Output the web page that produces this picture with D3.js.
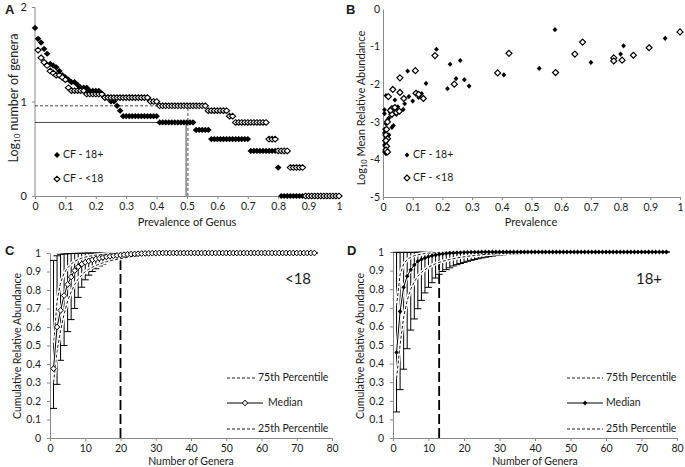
<!DOCTYPE html>
<html><head><meta charset="utf-8">
<script src="https://cdn.jsdelivr.net/npm/d3@7"></script>
<style>
body{margin:0;background:#fff}
svg{display:block}
text{font-family:Lato,"Open Sans",sans-serif;fill:#1a1a1a}
</style>
</head><body>
<svg id="chart" width="685" height="467"></svg>
<script>
// ---------------- Panel A data ----------------
const prevalenceSteps = [0,0.01,0.02,0.03,0.04,0.05,0.06,0.07,0.08,0.09,0.1,0.11,0.12,0.13,0.14,0.15,0.16,0.17,0.18,0.19,0.2,0.21,0.22,0.23,0.24,0.25,0.26,0.27,0.28,0.29,0.3,0.31,0.32,0.33,0.34,0.35,0.36,0.37,0.38,0.39,0.4,0.41,0.42,0.43,0.44,0.45,0.46,0.47,0.48,0.49,0.5,0.51,0.52,0.53,0.54,0.55,0.56,0.57,0.58,0.59,0.6,0.61,0.62,0.63,0.64,0.65,0.66,0.67,0.68,0.69,0.7,0.71,0.72,0.73,0.74,0.75,0.76,0.77,0.78,0.79,0.8,0.81,0.82,0.83,0.84,0.85,0.86,0.87,0.88,0.89,0.9,0.91,0.92,0.93,0.94,0.95,0.96,0.97,0.98,0.99,1];
const generaAdult = [60,46,42,36,32,25,24,23,21,19, 18,17,16,16,15,14,14,14,13,13, 13,13,12,11,11,10,10,9,8,7, 7,7,7,7,7,7,7,7,7,7, 7,6,6,6,6,6,6,6,6,6, 6,6,6,5,5,5,5,5,4,4, 4,4,4,4,4,4,4,4,4,4, 4,3,3,3,3,3,3,3,3,3, 2,1,1,1,1,1,1,1,1,1, 1,1,1,1,1,1,1,1,1,1,1];
const generaChild = [null,35,29,26,24,21,20,19,19,18, 17,14,13,13,13,13,13,12,12,12, 12,12,12,11,11,11,11,11,11,11, 11,11,11,11,11,11,11,11,10,10, 10,9,9,9,9,9,9,9,9,9, 9,9,9,9,9,9,9,8,8,8, 8,8,8,8,7,7,6,6,6,6, 6,6,6,6,6,6,6,4,4,4, 3,3,3,3,2,2,2,2,2,1, 1,1,1,1,1,1,1,1,1,1,1];
const refSolid = {prev:0.497, genera:6};
const refDashed = {prev:0.503, genera:9};
const ticksA_x = [0,0.1,0.2,0.3,0.4,0.5,0.6,0.7,0.8,0.9,1];
const ticksA_y = [0,1,2];

// ---------------- Panel B data ----------------
const scatterAdult = [[0.579,-0.55],[0.95,-0.78],[0.81,-0.98],[0.80,-1.20],[0.70,-1.42],[0.526,-1.58],[0.18,-1.07],[0.226,-1.47],[0.26,-1.37],[0.083,-1.65],[0.407,-1.75],[0.145,-1.98],[0.246,-1.85],[0.274,-1.88],[0.217,-2.12],[0.29,-2.05],[0.087,-2.33],[0.10,-2.45],[0.12,-2.35],[0.13,-2.25],[0.125,-2.3],[0.073,-2.52],[0.068,-2.67],[0.04,-2.42],[0.05,-2.6],[0.045,-2.8],[0.035,-3.1],[0.03,-3.15],[0.025,-2.75],[0.02,-2.9],[0.015,-2.95],[0.01,-2.3],[0.005,-2.68],[0.005,-2.78],[0.01,-3.05],[0.005,-3.2],[0.005,-3.3],[0.01,-3.4],[0.005,-3.5],[0.01,-3.55],[0.005,-3.62],[0.005,-3.8],[0.01,-3.85],[0.015,-3.45],[0.02,-3.35]];
const scatterChild = [[1.0,-0.61],[0.672,-0.88],[0.896,-1.03],[0.646,-1.2],[0.843,-1.23],[0.777,-1.30],[0.777,-1.38],[0.805,-1.36],[0.424,-1.18],[0.175,-1.24],[0.386,-1.70],[0.581,-1.69],[0.109,-1.64],[0.057,-1.83],[0.24,-2.0],[0.033,-2.14],[0.057,-2.22],[0.111,-2.24],[0.12,-2.27],[0.136,-2.38],[0.07,-2.38],[0.018,-2.33],[0.03,-2.65],[0.04,-2.62],[0.045,-2.75],[0.03,-2.8],[0.055,-2.72],[0.025,-2.7],[0.015,-3.0],[0.012,-3.2],[0.01,-3.35],[0.015,-3.45],[0.01,-3.5],[0.012,-3.65],[0.01,-3.75],[0.015,-3.8]];
const ticksB_x = [0,0.1,0.2,0.3,0.4,0.5,0.6,0.7,0.8,0.9,1];
const ticksB_y = [0,-1,-2,-3,-4,-5];

// ---------------- Panel C data (<18) ----------------
const generaC = [1,2,3,4,5,6,7,8,9,10,11,12,13,14,15,16,17,18,19,20,21,22,23,24,25,26,27,28,29,30,31,32,33,34,35,36,37,38,39,40,41,42,43,44,45,46,47,48,49,50,51,52,53,54,55,56,57,58,59,60,61,62,63,64,65,66,67,68,69,70,71,72,73,74,75];
const medianC = [0.375,0.60,0.69,0.77,0.83,0.87,0.905,0.925,0.94,0.95, 0.957,0.963,0.968,0.972,0.976,0.979,0.982,0.985,0.987,0.989, 0.991,0.993,0.994,0.995,0.996,0.997,0.998,0.998,0.999,0.999, 1,1,1,1,1,1,1,1,1,1, 1,1,1,1,1,1,1,1,1,1, 1,1,1,1,1,1,1,1,1,1, 1,1,1,1,1,1,1,1,1,1, 1,1,1,1,1];
const lowC = [0.16,0.29,0.42,0.50,0.575,0.64,0.70,0.76,0.815,0.855, 0.88,0.90,0.915,0.93,0.94,0.95,0.955,0.96,0.965,0.97, 0.975,0.978,0.981,0.984,0.987,0.989,0.991,0.993,0.995,0.996, 0.997,0.998,0.998,0.999,0.999,0.999,1,1,1,1, 1,1,1,1,1,1,1,1,1,1, 1,1,1,1,1,1,1,1,1,1, 1,1,1,1,1,1,1,1,1,1, 1,1,1,1,1];
const highC = [0.96,0.985,0.993,0.995,0.996,0.997,0.998,0.998,0.999,0.999, 1,1,1,1,1,1,1,1,1,1, 1,1,1,1,1,1,1,1,1,1, 1,1,1,1,1,1,1,1,1,1, 1,1,1,1,1,1,1,1,1,1, 1,1,1,1,1,1,1,1,1,1, 1,1,1,1,1,1,1,1,1,1, 1,1,1,1,1];
const p75C = [0.50,0.74,0.84,0.89,0.92,0.94,0.955,0.965,0.972,0.978, 0.982,0.985,0.988,0.99,0.992,0.994,0.995,0.996,0.997,0.998, 0.998,0.999,0.999,1,1,1,1,1,1,1, 1,1,1,1,1,1,1,1,1,1, 1,1,1,1,1,1,1,1,1,1, 1,1,1,1,1,1,1,1,1,1, 1,1,1,1,1,1,1,1,1,1, 1,1,1,1,1];
const p25C = [0.30,0.47,0.58,0.67,0.74,0.79,0.83,0.86,0.88,0.90, 0.912,0.923,0.932,0.94,0.947,0.953,0.958,0.962,0.966,0.97, 0.974,0.977,0.98,0.983,0.985,0.987,0.989,0.991,0.993,0.994, 0.995,0.996,0.997,0.998,0.998,0.999,0.999,1,1,1, 1,1,1,1,1,1,1,1,1,1, 1,1,1,1,1,1,1,1,1,1, 1,1,1,1,1,1,1,1,1,1, 1,1,1,1,1];
const cutoffC = 20;

// ---------------- Panel D data (18+) ----------------
const generaD = [1,2,3,4,5,6,7,8,9,10,11,12,13,14,15,16,17,18,19,20,21,22,23,24,25,26,27,28,29,30,31,32,33,34,35,36,37,38,39,40,41,42,43,44,45,46,47,48,49,50,51,52,53,54,55,56,57,58,59,60,61,62,63,64,65,66,67,68,69,70,71,72,73,74,75,76,77];
const medianD = [0.46,0.68,0.81,0.87,0.905,0.93,0.95,0.96,0.968,0.975, 0.98,0.984,0.988,0.99,0.992,0.994,0.995,0.996,0.997,0.998, 0.998,0.999,0.999,0.999,1,1,1,1,1,1, 1,1,1,1,1,1,1,1,1,1, 1,1,1,1,1,1,1,1,1,1, 1,1,1,1,1,1,1,1,1,1, 1,1,1,1,1,1,1,1,1,1, 1,1,1,1,1,1,1];
const lowD = [0.14,0.26,0.37,0.48,0.58,0.64,0.695,0.74,0.78,0.81, 0.835,0.86,0.88,0.895,0.905,0.915,0.925,0.932,0.938,0.944, 0.95,0.955,0.96,0.964,0.968,0.972,0.975,0.978,0.981,0.983, 0.985,0.987,0.989,0.99,0.991,0.992,0.993,0.994,0.995,0.996, 0.997,0.997,0.998,0.998,0.999,0.999,0.999,1,1,1, 1,1,1,1,1,1,1,1,1,1, 1,1,1,1,1,1,1,1,1,1, 1,1,1,1,1,1,1];
const highD = [0.998,0.998,0.998,0.998,0.998,0.998,0.999,0.999,0.999,0.999, 1,1,1,1,1,1,1,1,1,1, 1,1,1,1,1,1,1,1,1,1, 1,1,1,1,1,1,1,1,1,1, 1,1,1,1,1,1,1,1,1,1, 1,1,1,1,1,1,1,1,1,1, 1,1,1,1,1,1,1,1,1,1, 1,1,1,1,1,1,1];
const p75D = [0.71,0.88,0.935,0.96,0.972,0.98,0.985,0.989,0.992,0.994, 0.995,0.996,0.997,0.998,0.998,0.999,0.999,1,1,1, 1,1,1,1,1,1,1,1,1,1, 1,1,1,1,1,1,1,1,1,1, 1,1,1,1,1,1,1,1,1,1, 1,1,1,1,1,1,1,1,1,1, 1,1,1,1,1,1,1,1,1,1, 1,1,1,1,1,1,1];
const p25D = [0.32,0.50,0.65,0.74,0.80,0.84,0.87,0.89,0.905,0.918, 0.928,0.937,0.944,0.95,0.955,0.96,0.964,0.968,0.971,0.974, 0.977,0.979,0.981,0.983,0.985,0.987,0.988,0.989,0.99,0.991, 0.992,0.993,0.994,0.995,0.996,0.997,0.997,0.998,0.998,0.999, 0.999,1,1,1,1,1,1,1,1,1, 1,1,1,1,1,1,1,1,1,1, 1,1,1,1,1,1,1,1,1,1, 1,1,1,1,1,1,1];
const cutoffD = 13;
const ticksCD_x = [0,10,20,30,40,50,60,70,80];
const ticksCD_y = [0,0.1,0.2,0.3,0.4,0.5,0.6,0.7,0.8,0.9,1];

// ---------------- drawing ----------------
const svg = d3.select("#chart");
const AXIS = "#8a8a8a";
const diamond = (w,h) => `M0,${-h}L${w},0L0,${h}L${-w},0Z`;

function styleAxis(g, fs){
  g.select(".domain").attr("stroke", AXIS);
  g.selectAll(".tick line").attr("stroke", AXIS);
  g.selectAll(".tick text").attr("fill","#1a1a1a").style("font-family","Lato,'Open Sans',sans-serif").style("font-size", fs+"px");
}
function label(t, x, y, fs, opts={}){
  const el = svg.append("text").attr("x",x).attr("y",y).attr("font-size",fs).text(t);
  if(opts.anchor) el.attr("text-anchor",opts.anchor);
  if(opts.bold) el.attr("font-weight","bold").style("font-family","Arial,'Liberation Sans',sans-serif");
  if(opts.rotate) el.attr("transform",`rotate(-90,${x},${y})`);
  el.attr("dominant-baseline","middle");
  return el;
}

// ===== Panel A =====
{
  const x = d3.scaleLinear().domain([0,1]).range([35,339]);
  const y = d3.scaleLinear().domain([0,2]).range([196,7]);
  const gx = svg.append("g").attr("transform","translate(0,196)")
    .call(d3.axisBottom(x).tickValues(ticksA_x).tickFormat(d=>d).tickSize(3).tickSizeOuter(0).tickPadding(4));
  styleAxis(gx, 10.5);
  const gy = svg.append("g").attr("transform","translate(35,0)")
    .call(d3.axisLeft(y).tickValues(ticksA_y).tickFormat(d=>d).tickSize(3).tickSizeOuter(0).tickPadding(5));
  styleAxis(gy, 11);
  gy.select(".domain").attr("d", `M0,${y(2)}V${y(0)}`);

  const ys = y(Math.log10(refSolid.genera)), yd = y(Math.log10(refDashed.genera));
  svg.append("path").attr("d",`M${x(0)},${ys}H${x(refSolid.prev)}V${y(0)}`).attr("fill","none").attr("stroke","#333").attr("stroke-width",0.9);
  svg.append("path").attr("d",`M${x(0)},${yd}H${x(refDashed.prev)}V${y(0)}`).attr("fill","none").attr("stroke","#333").attr("stroke-width",0.9).attr("stroke-dasharray","3,2");

  const ad = prevalenceSteps.map((p,i)=>({p, c:generaAdult[i]})).filter(d=>d.c!=null);
  const cd = prevalenceSteps.map((p,i)=>({p, c:generaChild[i]})).filter(d=>d.c!=null);
  svg.append("g").selectAll("path").data(ad).join("path")
    .attr("transform",d=>`translate(${x(d.p)},${y(Math.log10(d.c))})`)
    .attr("d",diamond(3.3,3.1)).attr("fill","#000");
  svg.append("g").selectAll("path").data(cd).join("path")
    .attr("transform",d=>`translate(${x(d.p)},${y(Math.log10(d.c))})`)
    .attr("d",diamond(3.1,2.8)).attr("fill","#fff").attr("stroke","#000").attr("stroke-width",1.1);

  svg.append("path").attr("transform","translate(57,155)").attr("d",diamond(3,3)).attr("fill","#000");
  label("CF - 18+", 63, 155.5, 10.5);
  svg.append("path").attr("transform","translate(57,179)").attr("d",diamond(3,2.7)).attr("fill","#fff").attr("stroke","#000").attr("stroke-width",1.1);
  label("CF - <18", 63, 179.5, 10.5);

  label("Prevalence of Genus", 187, 223, 11, {anchor:"middle"});
  const t = svg.append("text").attr("x",15).attr("y",98).attr("text-anchor","middle").attr("dominant-baseline","middle")
    .attr("font-size",12.5).attr("transform","rotate(-90,15,98)");
  t.append("tspan").text("Log");
  t.append("tspan").text("10").attr("font-size",8).attr("dy",3);
  t.append("tspan").text(" number of genera").attr("dy",-3);
  label("A", 5, 11, 13, {bold:true});
}

// ===== Panel B =====
{
  const x = d3.scaleLinear().domain([0,1]).range([383,680]);
  const y = d3.scaleLinear().domain([-5,0]).range([197,9]);
  const gx = svg.append("g").attr("transform","translate(0,197)")
    .call(d3.axisBottom(x).tickValues(ticksB_x).tickFormat(d=>d).tickSize(3).tickSizeOuter(0).tickPadding(4));
  styleAxis(gx, 10.5);
  const gy = svg.append("g").attr("transform","translate(383,0)")
    .call(d3.axisLeft(y).tickValues(ticksB_y).tickFormat(d=>d<0?"-"+Math.abs(d):d).tickSize(0).tickSizeOuter(0).tickPadding(3));
  styleAxis(gy, 10.5);

  svg.append("g").selectAll("path").data(scatterAdult).join("path")
    .attr("transform",d=>`translate(${x(d[0])},${y(d[1])})`)
    .attr("d",diamond(2.4,2.6)).attr("fill","#000");
  svg.append("g").selectAll("path").data(scatterChild).join("path")
    .attr("transform",d=>`translate(${x(d[0])},${y(d[1])})`)
    .attr("d",diamond(3,3)).attr("fill","#fff").attr("stroke","#000").attr("stroke-width",1.2);

  svg.append("path").attr("transform","translate(407,155)").attr("d",diamond(2.4,2.6)).attr("fill","#000");
  label("CF - 18+", 413, 155.5, 10.5);
  svg.append("path").attr("transform","translate(407,178)").attr("d",diamond(3,3)).attr("fill","#fff").attr("stroke","#000").attr("stroke-width",1.2);
  label("CF - <18", 413, 178.5, 10.5);

  label("Prevalence", 531, 223, 11, {anchor:"middle"});
  const t = svg.append("text").attr("x",362).attr("y",108).attr("text-anchor","middle").attr("dominant-baseline","middle")
    .attr("font-size",11).attr("transform","rotate(-90,362,108)");
  t.append("tspan").text("Log");
  t.append("tspan").text("10").attr("font-size",7.5).attr("dy",3);
  t.append("tspan").text(" Mean Relative Abundance").attr("dy",-3);
  label("B", 346, 11, 13, {bold:true});
}

// ===== Panels C & D =====
function cumPanel(cfg){
  const x = d3.scaleLinear().domain([0,80]).range(cfg.xr);
  const y = d3.scaleLinear().domain([0,1]).range([438,cfg.ytop]);
  const gx = svg.append("g").attr("transform","translate(0,438)")
    .call(d3.axisBottom(x).tickValues(ticksCD_x).tickSize(3).tickSizeOuter(0).tickPadding(4));
  styleAxis(gx, 10.5);
  const gy = svg.append("g").attr("transform",`translate(${cfg.xr[0]},0)`)
    .call(d3.axisLeft(y).tickValues(ticksCD_y).tickFormat(d=>d).tickSize(3).tickSizeOuter(0).tickPadding(6));
  styleAxis(gy, 10.5);

  const rows = cfg.n.map((g,i)=>({g, m:cfg.med[i], lo:cfg.lo[i], hi:cfg.hi[i], q3:cfg.q3[i], q1:cfg.q1[i]}));
  const eb = svg.append("g").attr("stroke","#000").attr("stroke-width",1).attr("fill","none");
  eb.selectAll("path").data(rows).join("path")
    .attr("d",d=>{const cx=x(d.g); return `M${cx},${y(d.lo)}V${y(d.hi)}M${cx-3.5},${y(d.lo)}H${cx+3.5}M${cx-3.5},${y(d.hi)}H${cx+3.5}`;});
  svg.append("line").attr("x1",x(cfg.cut)).attr("x2",x(cfg.cut)).attr("y1",y(0)).attr("y2",y(0.985))
    .attr("stroke","#000").attr("stroke-width",1.8).attr("stroke-dasharray","10,4");
  const line = key => d3.line().x(d=>x(d.g)).y(d=>y(d[key]))(rows);
  ["q3","q1"].forEach(k=>{
    svg.append("path").attr("d",line(k)).attr("fill","none").attr("stroke","#fff").attr("stroke-width",3.5);
    svg.append("path").attr("d",line(k)).attr("fill","none").attr("stroke","#000").attr("stroke-width",0.9).attr("stroke-dasharray","3,2");
  });
  svg.append("path").attr("d",line("m")).attr("fill","none").attr("stroke","#fff").attr("stroke-width",3);
  svg.append("path").attr("d",line("m")).attr("fill","none").attr("stroke","#000").attr("stroke-width",1);
  const mk = svg.append("g").selectAll("path").data(rows).join("path")
    .attr("transform",d=>`translate(${x(d.g)},${y(d.m)})`);
  if(cfg.open) mk.attr("d",diamond(2.7,2.9)).attr("fill","#fff").attr("stroke","#000").attr("stroke-width",1);
  else mk.attr("d",diamond(2.2,2.4)).attr("fill","#000");

  label(cfg.tag, cfg.tagX, 280, 15, {anchor:"middle"});
  const L = cfg.leg;
  svg.append("line").attr("x1",L.x0).attr("x2",L.x1).attr("y1",378).attr("y2",378).attr("stroke","#000").attr("stroke-width",0.9).attr("stroke-dasharray","3,2");
  label("75th Percentile", L.tx, 378.5, 10.5);
  svg.append("line").attr("x1",L.x0).attr("x2",L.mx1).attr("y1",403).attr("y2",403).attr("stroke","#000").attr("stroke-width",1);
  const lm = svg.append("path").attr("transform",`translate(${(L.x0+L.mx1)/2},403)`);
  if(cfg.open) lm.attr("d",diamond(2.7,2.9)).attr("fill","#fff").attr("stroke","#000").attr("stroke-width",1);
  else lm.attr("d",diamond(2.2,2.4)).attr("fill","#000");
  label("Median", L.mtx, 403.5, 10.5);
  svg.append("line").attr("x1",L.x0).attr("x2",L.x1).attr("y1",429).attr("y2",429).attr("stroke","#000").attr("stroke-width",0.9).attr("stroke-dasharray","3,2");
  label("25th Percentile", L.tx, 429.5, 10.5);

  label("Number of Genera", (cfg.xr[0]+cfg.xr[1])/2, 462.5, 10.5, {anchor:"middle"});
  label("Cumulative Relative Abundance", cfg.ytX, 346, 10.5, {anchor:"middle", rotate:true});
  label(cfg.letter, cfg.letterX, 252, 13, {bold:true});
}

cumPanel({xr:[50,332], ytop:253, n:generaC, med:medianC, lo:lowC, hi:highC, q3:p75C, q1:p25C, cut:cutoffC, open:true,
  tag:"<18", tagX:298, leg:{x0:227,x1:255,mx1:263,tx:258,mtx:268}, ytX:18, letter:"C", letterX:5});
cumPanel({xr:[393,677], ytop:252, n:generaD, med:medianD, lo:lowD, hi:highD, q3:p75D, q1:p25D, cut:cutoffD, open:false,
  tag:"18+", tagX:649, leg:{x0:567,x1:603,mx1:603,tx:606,mtx:606}, ytX:361, letter:"D", letterX:347});
</script>
</body></html>
